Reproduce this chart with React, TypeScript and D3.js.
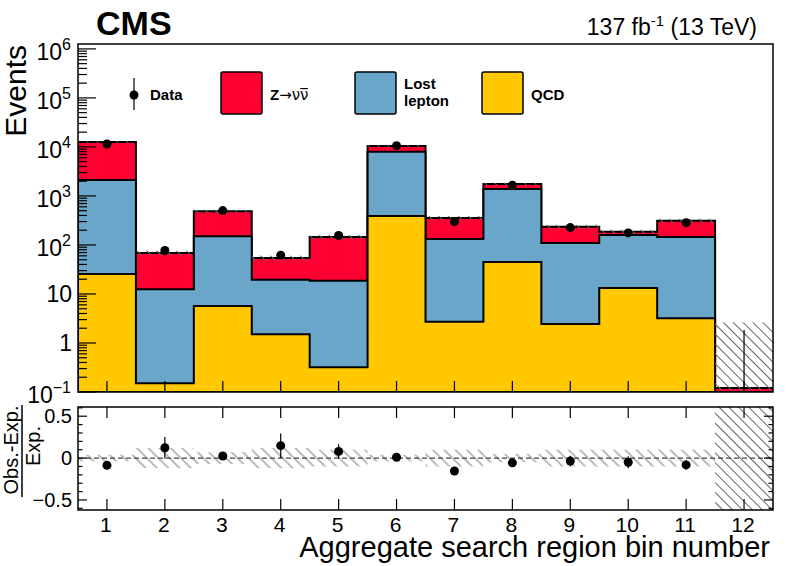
import React from 'react';
import * as d3 from 'd3';

// ---- data ----
const bins = [1, 2, 3, 4, 5, 6, 7, 8, 9, 10, 11, 12];
const binLabels = ['1', '2', '3', '4', '5', '6', '7', '8', '9', '10', '11', '12'];
const qcd = [25.6, 0.15, 5.7, 1.5, 0.32, 390, 2.7, 45, 2.45, 13.3, 3.2, 0];
const lostLepton = [2100, 12.4, 145, 17.9, 18.2, 7560, 129, 1335, 107, 147, 142, 0];
const zinv = [10470, 56, 339, 34.6, 126, 2550, 223, 380, 125, 25, 165, 0.12];
const observed = [11500, 77, 502, 62, 156, 10600, 300, 1660, 226, 176, 285, 0];
const sysUnc = [0.04, 0.12, 0.07, 0.12, 0.1, 0.04, 0.1, 0.05, 0.1, 0.1, 0.1, 21];
const zeroObsUpper = 1.84;
const yTickExps = [-1, 0, 1, 2, 3, 4, 5, 6];
const ratioMajorTicks = [-0.5, 0, 0.5];
const ratioMinorTicks = [-0.6, -0.4, -0.3, -0.2, -0.1, 0.1, 0.2, 0.3, 0.4, 0.6];

const legendItems = [
  { label: ['Z\u2192\u03bd\u03bd\u0305'], color: '#ff0033' },
  { label: ['Lost', 'lepton'], color: '#6aa6c9' },
  { label: ['QCD'], color: '#ffc800' },
];

const RED = '#ff0033';
const BLUE = '#6aa6c9';
const YEL = '#ffc800';
const FONT = "'Liberation Sans', Arial, Helvetica, sans-serif";

const W = 789;
const H = 566;
const L = 78;
const R = 773;
const MT = 44;
const MB = 392;
const RT = 407;
const RB = 510;

export default function App() {
  const x = d3.scaleLinear().domain([0.5, 12.5]).range([L, R]);
  const y = d3.scaleLog().domain([0.1, Math.pow(10, 6.1)]).range([MB, MT]).clamp(true);
  const yr = d3.scaleLinear().domain([-0.62, 0.61]).range([RB, RT]);

  const cumQ = qcd.slice();
  const cumLL = qcd.map((q, i) => q + lostLepton[i]);
  const total = cumLL.map((v, i) => v + zinv[i]);

  const yv = (v: number) => (v > 0.1 ? y(v) : MB);
  const stepPath = (vals: number[]) => {
    const p = d3.path();
    p.moveTo(x(0.5), MB);
    vals.forEach((v, i) => {
      p.lineTo(x(bins[i] - 0.5), yv(v));
      p.lineTo(x(bins[i] + 0.5), yv(v));
    });
    p.lineTo(x(12.5), MB);
    p.closePath();
    return p.toString();
  };

  const yMinor: number[] = [];
  for (let k = -1; k <= 5; k++) for (let m = 2; m <= 9; m++) yMinor.push(m * Math.pow(10, k));

  const bw = x(1.5) - x(0.5);

  return (
    <div style={{ position: 'absolute', left: 0, top: 0 }}>
      <svg width={W} height={H} style={{ display: 'block', background: '#fff' }} fontFamily={FONT}>
        <defs>
          <pattern id="hatch" patternUnits="userSpaceOnUse" width="7" height="7" patternTransform="rotate(-45)">
            <line x1="3.5" y1="0" x2="3.5" y2="7" stroke="#666" strokeWidth="1" />
          </pattern>
          <pattern id="hatchR" patternUnits="userSpaceOnUse" width="8" height="8" patternTransform="rotate(-45)">
            <line x1="4" y1="0" x2="4" y2="8" stroke="#777" strokeWidth="1" />
          </pattern>
          <clipPath id="mainClip">
            <rect x={L} y={MT} width={R - L} height={MB - MT} />
          </clipPath>
          <clipPath id="ratioClip">
            <rect x={L} y={RT} width={R - L} height={RB - RT} />
          </clipPath>
        </defs>

        {/* stacks */}
        <g clipPath="url(#mainClip)">
          <path d={stepPath(total)} fill={RED} stroke="#000" strokeWidth={2} />
          <path d={stepPath(cumLL)} fill={BLUE} stroke="#000" strokeWidth={2} />
          <path d={stepPath(cumQ)} fill={YEL} stroke="#000" strokeWidth={2} />
          {bins.map((b, i) => {
            const t = total[i];
            const hi = yv(t * (1 + sysUnc[i]));
            const lo = yv(Math.max(t * (1 - sysUnc[i]), 0));
            return <rect key={b} x={x(b - 0.5)} y={hi} width={bw} height={lo - hi} fill="url(#hatch)" />;
          })}
        </g>

        {/* main frame */}
        <rect x={L} y={MT} width={R - L} height={MB - MT} fill="none" stroke="#000" strokeWidth={1.5} />

        {/* main x ticks */}
        {bins.map((b) => (
          <line key={b} x1={x(b)} x2={x(b)} y1={MB} y2={MB - 11} stroke="#000" strokeWidth={1.2} />
        ))}
        {/* main y ticks */}
        {yTickExps.map((k) => (
          <line key={k} x1={L} x2={L + 18} y1={y(Math.pow(10, k))} y2={y(Math.pow(10, k))} stroke="#000" strokeWidth={1.2} />
        ))}
        {yMinor.map((v, i) => (
          <line key={i} x1={L} x2={L + 9} y1={y(v)} y2={y(v)} stroke="#000" strokeWidth={1.2} />
        ))}
        {yTickExps.map((k) => {
          const ty = y(Math.pow(10, k));
          if (k === 0 || k === 1)
            return (
              <text key={k} x={72} y={ty + 8.5} fontSize={23} textAnchor="end">
                {k === 0 ? '1' : '10'}
              </text>
            );
          return (
            <text key={k} x={71} y={ty + 11} fontSize={23} textAnchor="end">
              10
              <tspan dy={-10} fontSize={16}>
                {k < 0 ? '\u2212' + Math.abs(k) : String(k)}
              </tspan>
            </text>
          );
        })}

        {/* main data */}
        {bins.map((b, i) => {
          const o = observed[i];
          if (o <= 0) {
            return <line key={b} x1={x(b)} x2={x(b)} y1={MB} y2={y(zeroObsUpper)} stroke="#000" strokeWidth={1.2} />;
          }
          const e = Math.sqrt(o);
          return (
            <g key={b}>
              <line x1={x(b)} x2={x(b)} y1={yv(o - e)} y2={y(o + e)} stroke="#000" strokeWidth={1.2} />
              <circle cx={x(b)} cy={y(o)} r={4.5} fill="#000" />
            </g>
          );
        })}

        {/* legend */}
        <line x1={134} x2={134} y1={78} y2={110} stroke="#000" strokeWidth={1.2} />
        <circle cx={134} cy={95} r={4.5} fill="#000" />
        <text x={150} y={100} fontSize={15} fontWeight="bold">Data</text>
        {legendItems.map((it, i) => {
          const bx = [221, 355, 482][i];
          return (
            <g key={i}>
              <rect x={bx} y={72} width={41} height={42} rx={2} fill={it.color} stroke="#000" strokeWidth={1.5} />
              {it.label.length === 1 ? (
                <text x={bx + 49} y={100} fontSize={15} fontWeight="bold" fontFamily={i === 0 ? "'DejaVu Sans', sans-serif" : FONT}>
                  {i === 0 ? (
                    <>
                      <tspan fontWeight="bold" fontFamily={FONT}>Z</tspan>
                      <tspan fontWeight="normal">{'\u2192\u03bd\u03bd\u0305'}</tspan>
                    </>
                  ) : (
                    it.label[0]
                  )}
                </text>
              ) : (
                <>
                  <text x={bx + 49} y={89} fontSize={15} fontWeight="bold">{it.label[0]}</text>
                  <text x={bx + 49} y={106} fontSize={15} fontWeight="bold">{it.label[1]}</text>
                </>
              )}
            </g>
          );
        })}

        {/* titles */}
        <text x={96} y={35} fontSize={34} fontWeight="bold">CMS</text>
        <text x={757} y={35} fontSize={23} textAnchor="end">
          137 fb<tspan dy={-9} fontSize={15}>-1</tspan>
          <tspan dy={9}> (13 TeV)</tspan>
        </text>
        <text transform={`translate(26,${MT + 1}) rotate(-90)`} fontSize={30} textAnchor="end">Events</text>

        {/* ratio panel */}
        <g clipPath="url(#ratioClip)">
          {bins.map((b, i) => {
            const s = Math.min(sysUnc[i], 2);
            return (
              <rect key={b} x={x(b - 0.5)} y={yr(s)} width={bw} height={yr(-s) - yr(s)} fill={s > 1 ? 'url(#hatch)' : 'url(#hatchR)'} />
            );
          })}
        </g>
        <line x1={L} x2={R} y1={yr(0)} y2={yr(0)} stroke="#444" strokeWidth={1.2} strokeDasharray="5 3" />
        <rect x={L} y={RT} width={R - L} height={RB - RT} fill="none" stroke="#000" strokeWidth={1.5} />
        {bins.map((b) => (
          <g key={b}>
            <line x1={x(b)} x2={x(b)} y1={RT} y2={RT + 11} stroke="#000" strokeWidth={1.2} />
            <line x1={x(b)} x2={x(b)} y1={RB} y2={RB - 11} stroke="#000" strokeWidth={1.2} />
          </g>
        ))}
        {ratioMajorTicks.map((t) => (
          <g key={t}>
            <line x1={L} x2={L + 9} y1={yr(t)} y2={yr(t)} stroke="#000" strokeWidth={1.2} />
            <line x1={R} x2={R - 9} y1={yr(t)} y2={yr(t)} stroke="#000" strokeWidth={1.2} />
            <text x={72} y={yr(t) + 7} fontSize={20} textAnchor="end">
              {t === 0 ? '0' : t < 0 ? '\u22120.5' : '0.5'}
            </text>
          </g>
        ))}
        {ratioMinorTicks.map((t) => (
          <g key={t}>
            <line x1={L} x2={L + 4.5} y1={yr(t)} y2={yr(t)} stroke="#000" strokeWidth={1.2} />
            <line x1={R} x2={R - 4.5} y1={yr(t)} y2={yr(t)} stroke="#000" strokeWidth={1.2} />
          </g>
        ))}
        {bins.map((b, i) => {
          const o = observed[i];
          if (o <= 0) return null;
          const r = o / total[i] - 1;
          const e = Math.sqrt(o) / total[i];
          return (
            <g key={b}>
              <line x1={x(b)} x2={x(b)} y1={yr(r - e)} y2={yr(r + e)} stroke="#000" strokeWidth={1.2} />
              <circle cx={x(b)} cy={yr(r)} r={4.5} fill="#000" />
            </g>
          );
        })}
        <text transform="translate(18,450) rotate(-90)" fontSize={20} textAnchor="middle">Obs.-Exp.</text>
        <line x1={22} x2={22} y1={405} y2={497} stroke="#000" strokeWidth={1.5} />
        <text transform="translate(40,446) rotate(-90)" fontSize={20} textAnchor="middle">Exp.</text>

        {/* x labels */}
        {bins.map((b, i) => (
          <text key={b} x={x(b) - 1} y={532} fontSize={21} textAnchor="middle">
            {binLabels[i]}
          </text>
        ))}
        <text x={770} y={557} fontSize={29} textAnchor="end">
          Aggregate search region bin number
        </text>
      </svg>
    </div>
  );
}
